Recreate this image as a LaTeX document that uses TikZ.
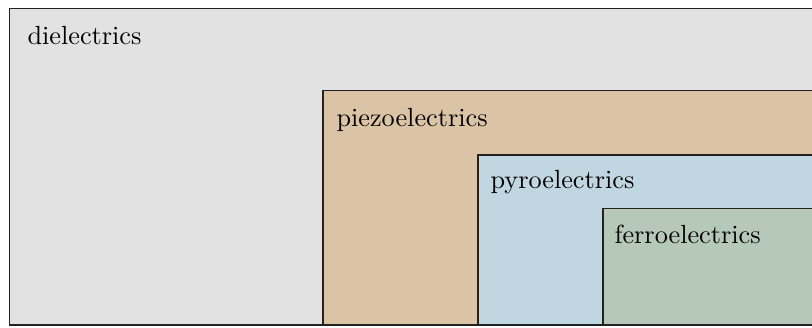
\documentclass[tikz,border=0pt]{standalone}
\usepackage{tikz}
\definecolor{dielc}{HTML}{E2E2E2}
\definecolor{piezoc}{HTML}{DBC3A6}
\definecolor{pyroc}{HTML}{C0D6E0}
\definecolor{ferroc}{HTML}{B6C9B8}
\definecolor{edgec}{HTML}{222222}
\begin{document}
\begin{tikzpicture}[x=0.4pt,y=-0.4pt,
  region/.style={draw=edgec,line width=0.5pt},
  lbl/.style={anchor=base west,inner sep=0pt,font=\fontsize{10.5pt}{12pt}\selectfont}]
\useasboundingbox (0,0) rectangle (812,327);
\clip (0,0) rectangle (812,327);
\fill[white] (0,0) rectangle (812,327);
\draw[region,fill=dielc] (9.5,8.5) rectangle (840,325);
\draw[region,fill=piezoc] (323,90.5) rectangle (840,325);
\draw[region,fill=pyroc] (478,155) rectangle (840,325);
\draw[region,fill=ferroc] (603,208.5) rectangle (840,325);
\node[lbl] (diel) at (27,44) {dielectrics};
\node[lbl] (piezo) at (336,126) {piezoelectrics};
\node[lbl] (pyro) at (490,188) {pyroelectrics};
\node[lbl] (ferro) at (614,243) {ferroelectrics};
\end{tikzpicture}
\end{document}
